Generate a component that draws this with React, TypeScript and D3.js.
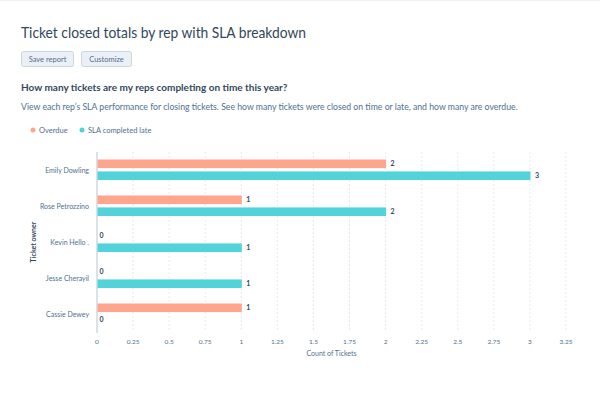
import React from "react";
import * as d3 from "d3";

const owners = ["Emily Dowling", "Rose Petrozzino", "Kevin Hello .", "Jesse Cherayil", "Cassie Dewey"];
const overdue = [2, 1, 0, 0, 1];
const slaLate = [3, 2, 1, 1, 0];
const xTicks = [0, 0.25, 0.5, 0.75, 1, 1.25, 1.5, 1.75, 2, 2.25, 2.5, 2.75, 3, 3.25];
const seriesNames = ["Overdue", "SLA completed late"];
const colors = ["#fea58e", "#51d3d9"];

export default function App() {
  const W = 600, H = 400;
  const left = 97, right = 566, top = 152, bottom = 332;
  const x = d3.scaleLinear().domain([0, 3.25]).range([left, right]);
  const y = d3.scaleBand<string>().domain(owners).range([top, bottom]);
  const inner = d3.scaleBand<string>().domain(["a", "b"]).range([-10.5, 10]).paddingInner(0.28);
  const font = "Lato, 'Open Sans', sans-serif";
  const series = [overdue, slaLate];
  return (
    <svg width={W} height={H} style={{ position: "absolute", left: 0, top: 0, fontFamily: font }}>
      <rect width={W} height={H} fill="#fff" />
      <line x1={0} x2={W} y1={0.5} y2={0.5} stroke="#eaf0f6" />
      <text x={21} y={38} fontSize={15} fill="#33475b" textLength={285} lengthAdjust="spacingAndGlyphs">Ticket closed totals by rep with SLA breakdown</text>
      <rect x={21.5} y={51.5} width={52} height={15} rx={2} fill="#eaf0f6" stroke="#cbd6e2" />
      <text x={47.5} y={61.5} fontSize={7.5} fill="#506e91" textAnchor="middle">Save report</text>
      <rect x={81.5} y={51.5} width={50} height={15} rx={2} fill="#eaf0f6" stroke="#cbd6e2" />
      <text x={106.5} y={61.5} fontSize={7.5} fill="#506e91" textAnchor="middle">Customize</text>
      <text x={21} y={91} fontSize={10} fontWeight="bold" fill="#33475b">How many tickets are my reps completing on time this year?</text>
      <text x={21} y={110} fontSize={8.7} fill="#516f90">View each rep’s SLA performance for closing tickets. See how many tickets were closed on time or late, and how many are overdue.</text>
      {seriesNames.map((n, i) => {
        const lx = i === 0 ? 33 : 82;
        return (
          <g key={n}>
            <circle cx={lx} cy={130} r={2.5} fill={colors[i]} />
            <text x={lx + 6} y={132.5} fontSize={7.5} fill="#516f90">{n}</text>
          </g>
        );
      })}
      {xTicks.map((t) => (
        <g key={t}>
          {t > 0 && (
            <line x1={x(t)} x2={x(t)} y1={top} y2={bottom} stroke="#e5e9ef" strokeDasharray="2,2" />
          )}
          <text x={x(t)} y={344} fontSize={6.5} fill="#516f90" textAnchor="middle">{String(t)}</text>
        </g>
      ))}
      <line x1={left} x2={left} y1={top} y2={bottom + 1} stroke="#b8c4d2" strokeWidth={1} />
      {owners.map((o, i) => {
        const cy = y(o)! + y.bandwidth() / 2;
        return (
          <g key={o}>
            <text x={89} y={cy + 2.5} fontSize={7} fill="#516f90" textAnchor="end">{o}</text>
            {series.map((s, j) => {
              const by = cy + inner(j === 0 ? "a" : "b")!;
              const v = s[i];
              return (
                <g key={j}>
                  {v > 0 && (
                    <rect x={left + 0.5} y={by} width={x(v) - left} height={inner.bandwidth()} fill={colors[j]} />
                  )}
                  <text x={x(v) + (v > 0 ? 5 : 2.5)} y={by + inner.bandwidth() / 2 + 2.5} fontSize={7} fontWeight="bold" fill="#33475b">{v}</text>
                </g>
              );
            })}
          </g>
        );
      })}
      <text x={x(1.625)} y={356} fontSize={7} fill="#516f90" textAnchor="middle">Count of Tickets</text>
      <text transform={`translate(36,${(top + bottom) / 2}) rotate(-90)`} fontSize={7} fontWeight="bold" fill="#33475b" textAnchor="middle">Ticket owner</text>
    </svg>
  );
}
